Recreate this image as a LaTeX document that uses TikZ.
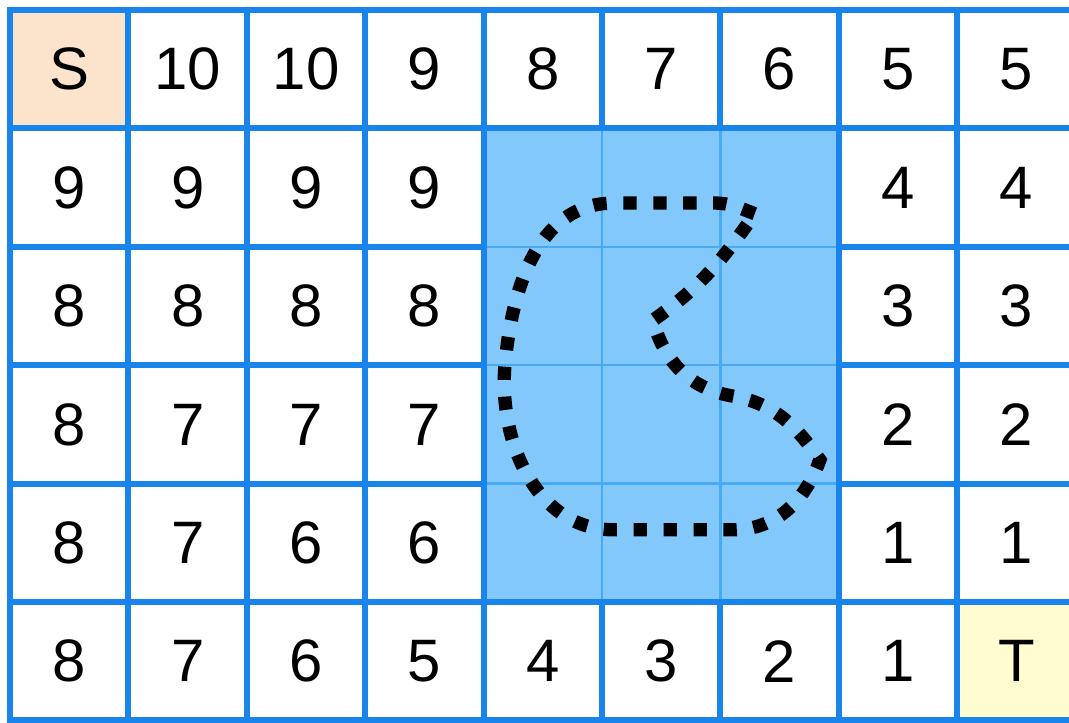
\documentclass[tikz,border=0pt]{standalone}
\usepackage{fontspec}
\setmainfont{Liberation Sans}
\definecolor{gridblue}{RGB}{24,132,236}
\definecolor{wallblue}{RGB}{130,200,250}
\definecolor{wallline}{RGB}{70,170,245}
\definecolor{startfill}{RGB}{252,228,204}
\definecolor{goalfill}{RGB}{255,252,208}
\begin{document}
\begin{tikzpicture}[
    cell/.style={draw=gridblue, line width=1.45pt, minimum size=1cm, inner sep=0pt, outer sep=0pt,
      font=\fontsize{14.4}{17}\selectfont},
    route/.style={black, line width=3.2pt, dash pattern=on 3.2pt off 4pt}
  ]
        \useasboundingbox (-0.085,-0.017) rectangle (8.944,6.085);
        \fill [startfill] (0, 5) rectangle ++(1,1);
        \fill [goalfill] (8, 0) rectangle ++(1,1);
        % distances, one row per line from the top
        \foreach \vals [count=\r] in {{S,10,10,9,8,7,6,5,5},
                                      {9,9,9,9,{},{},{},4,4},
                                      {8,8,8,8,{},{},{},3,3},
                                      {8,7,7,7,{},{},{},2,2},
                                      {8,7,6,6,{},{},{},1,1},
                                      {8,7,6,5,4,3,2,1,T}}
            \foreach \v [count=\c] in \vals
                \node [cell] (c\r-\c) at (\c-0.5, 6.5-\r) {\v};
        % obstacle
        \fill [wallblue] (c2-5.north west) rectangle (c5-7.south east);
        \draw [wallline, line width=0.6pt] (c2-5.north west) grid (c5-7.south east);
        \draw [gridblue, line width=1.45pt] (c2-5.north west) rectangle (c5-7.south east);
        % dotted outline
        \draw [route] (6.29,4.28) to[out=160,in=0] (5.95,4.37) -- (5.1,4.37)
            to[out=180,in=85] (4.18,3.0) to[out=-95,in=180] (5.1,1.61) -- (6.1,1.61)
            to[out=0,in=-110] (6.84,2.20) to[out=125,in=-10] (6.1,2.74)
            to[out=170,in=-75] (5.43,3.38) to[out=35,in=-125] (6.29,4.28);
    \end{tikzpicture}
\end{document}
